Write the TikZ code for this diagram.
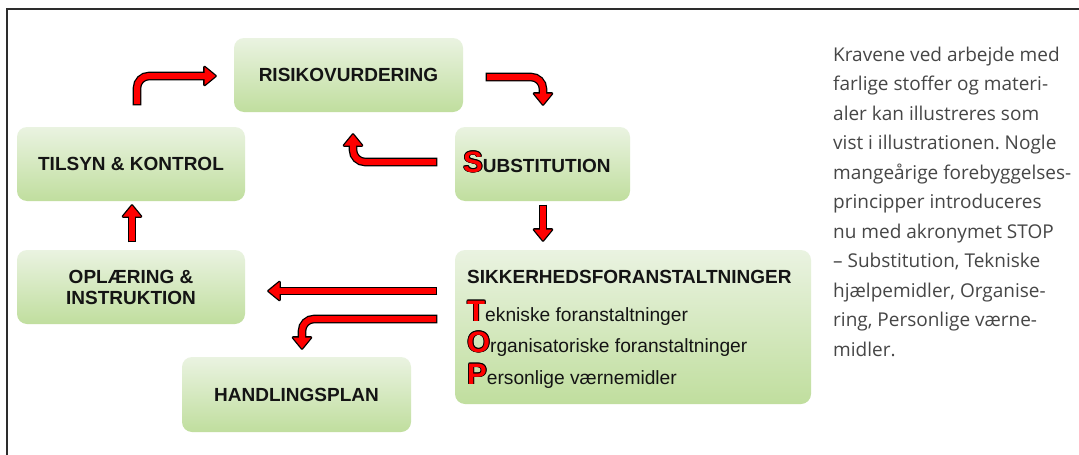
\documentclass[tikz,border=0pt]{standalone}
\usepackage{fontspec}
\setmainfont{Liberation Sans}
\newfontfamily\parfont{Open Sans}
\usetikzlibrary{calc}
\definecolor{boxtop}{RGB}{234,243,225}
\definecolor{boxbot}{RGB}{192,222,158}
\definecolor{arrred}{RGB}{255,0,0}
\definecolor{partext}{RGB}{70,70,70}
\definecolor{framecol}{RGB}{45,45,45}
\newcommand\ocp[3]{\makebox[0pt][l]{\kern#1\raisebox{#2}{\textcolor{black}{#3}}}}
\newcommand\redcap[1]{\ocp{-.9pt}{0pt}{#1}\ocp{.9pt}{0pt}{#1}\ocp{0pt}{.9pt}{#1}\ocp{0pt}{-.9pt}{#1}\ocp{-.65pt}{.65pt}{#1}\ocp{.65pt}{.65pt}{#1}\ocp{-.65pt}{-.65pt}{#1}\ocp{.65pt}{-.65pt}{#1}\textcolor{arrred}{#1}}
\newcommand\stoparrow[3]{%
  \draw[line width=8.6pt, black, rounded corners=12pt, shorten <=-1.3pt] #1;
  \filldraw[black, line width=2.6pt, line join=round, shift={(#2)}, rotate=#3] (-0.5,9) -- (10.5,0) -- (-0.5,-9) -- cycle;
  \draw[line width=6pt, arrred, rounded corners=12pt] #1;
  \fill[arrred, shift={(#2)}, rotate=#3] (-0.5,9) -- (10.5,0) -- (-0.5,-9) -- cycle;
}
\tikzset{
  gbox/.style={rounded corners=10pt, top color=boxtop, bottom color=boxbot, draw=none, inner sep=0pt,
    font=\bfseries\fontsize{19}{21}\selectfont, align=center, text=black!92},
  txt/.style={anchor=base west, inner sep=0pt, text=black!92}
}
\begin{document}
\begin{tikzpicture}[x=1pt,y=-1pt]
\useasboundingbox (0,0) rectangle (1079,455);
\fill[white] (0,0) rectangle (1079,455);
\draw[line width=1.5pt, framecol] (7,455) -- (7,9) -- (1079,9);

% boxes
\node[gbox, minimum width=229pt, minimum height=74pt] (risiko) at (348.5,75) {RISIKOVURDERING};
\node[gbox, minimum width=228pt, minimum height=74pt] (tilsyn) at (131,164) {TILSYN \& KONTROL};
\node[gbox, minimum width=175pt, minimum height=74pt] (subst) at (542.5,164) {};
\node[gbox, minimum width=228pt, minimum height=74pt] (opl) at (131,287) {OPLÆRING \&\\INSTRUKTION};
\node[gbox, minimum width=229pt, minimum height=75pt] (handl) at (296.5,394.5) {HANDLINGSPLAN};
\node[gbox, minimum width=356pt, minimum height=154pt] (sikk) at (633,327) {};

% texts inside
\node[txt, font=\bfseries] (substtxt) at (463,172) {\redcap{\fontsize{29.5}{29}\selectfont S}\fontsize{19}{21}\selectfont UBSTITUTION};
\node[txt, font=\bfseries\fontsize{19}{21}\selectfont] (sikkhead) at (467,283) {SIKKERHEDSFORANSTALTNINGER};
\node[txt, font=\fontsize{19.2}{21}\selectfont] (topt) at (467,321) {\redcap{\bfseries\fontsize{29.5}{29}\selectfont T}ekniske foranstaltninger};
\node[txt, font=\fontsize{19.2}{21}\selectfont] (topo) at (467,352) {\redcap{\bfseries\fontsize{29.5}{29}\selectfont O}rganisatoriske foranstaltninger};
\node[txt, font=\fontsize{19.2}{21}\selectfont] (topp) at (467,384) {\redcap{\bfseries\fontsize{29.5}{29}\selectfont P}ersonlige værnemidler};

% paragraph
\node[anchor=base west, inner sep=0pt, text=partext] (para) at (833,61) {\parbox[t]{245pt}{\parfont\fontsize{19}{29.5}\selectfont\raggedright\frenchspacing
Kravene ved arbejde med\\
farlige stoffer og materi-\\
aler kan illustreres som\\
vist i illustrationen. Nogle\\
mangeårige forebyggelses-\\
principper introduceres\\
nu med akronymet STOP\\
– Substitution, Tekniske\\
hjælpemidler, Organise-\\
ring, Personlige værne-\\
midler.}};

% connector coordinates
\coordinate (a1s) at (137,104); \coordinate (a1b) at (205,76);
\coordinate (a2s) at (487,77);  \coordinate (a2b) at (543,94);
\coordinate (a3s) at (436,162); \coordinate (a3b) at (353,145);
\coordinate (a4s) at (543,206); \coordinate (a4b) at (543,230);
\coordinate (a5s) at (132,241); \coordinate (a5b) at (132,216);
\coordinate (a6s) at (436,291); \coordinate (a6b) at (279,291);
\coordinate (a7s) at (436,319); \coordinate (a7b) at (302,338);

\stoparrow{(a1s) |- (a1b)}{a1b}{0}
\stoparrow{(a2s) -| (a2b)}{a2b}{-90}
\stoparrow{(a3s) -| (a3b)}{a3b}{90}
\stoparrow{(a4s) -- (a4b)}{a4b}{-90}
\stoparrow{(a5s) -- (a5b)}{a5b}{90}
\stoparrow{(a6s) -- (a6b)}{a6b}{180}
\stoparrow{(a7s) -| (a7b)}{a7b}{-90}
\end{tikzpicture}
\end{document}
